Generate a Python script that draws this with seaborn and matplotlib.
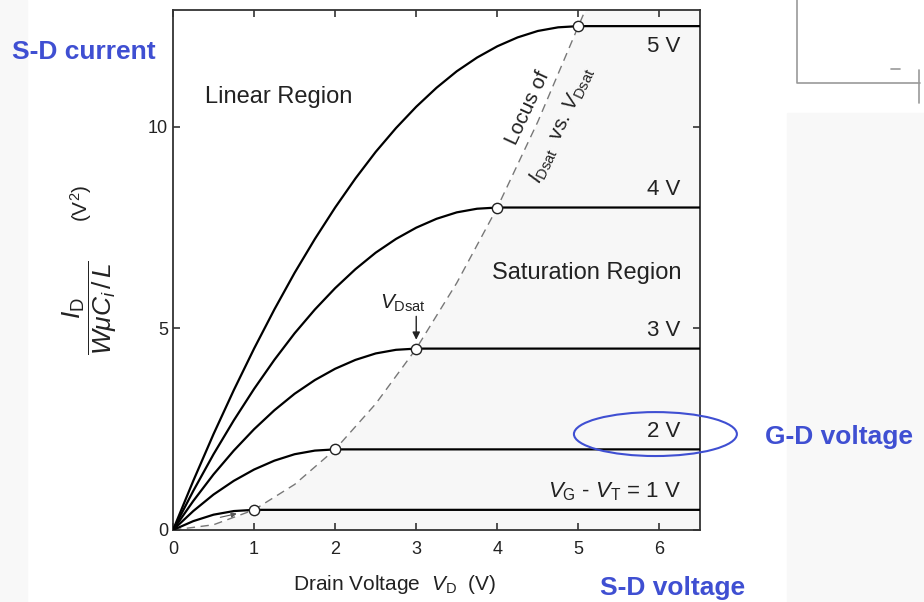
import numpy as np
import pandas as pd
import matplotlib.pyplot as plt
import seaborn as sns
from matplotlib.patches import Ellipse, Rectangle
from matplotlib.lines import Line2D

# curves: drain voltage (V) vs normalised current (V^2)
vd_1v = [0, 0.25, 0.5, 0.75, 1, 6.5]
id_1v = [0, 0.22, 0.38, 0.47, 0.5, 0.5]
vd_2v = [0, 0.25, 0.5, 0.75, 1, 1.25, 1.5, 1.75, 2, 6.5]
id_2v = [0, 0.47, 0.88, 1.22, 1.5, 1.72, 1.88, 1.97, 2, 2]
vd_3v = [0, 0.25, 0.5, 0.75, 1, 1.25, 1.5, 1.75, 2, 2.25, 2.5, 2.75, 3, 6.5]
id_3v = [0, 0.72, 1.38, 1.97, 2.5, 2.97, 3.38, 3.72, 4, 4.22, 4.38, 4.47,
         4.5, 4.5]
vd_4v = [0, 0.25, 0.5, 0.75, 1, 1.25, 1.5, 1.75, 2, 2.25, 2.5, 2.75, 3,
         3.25, 3.5, 3.75, 4, 6.5]
id_4v = [0, 0.97, 1.88, 2.72, 3.5, 4.22, 4.88, 5.47, 6, 6.47, 6.88, 7.22,
         7.5, 7.72, 7.88, 7.97, 8, 8]
vd_5v = [0, 0.25, 0.5, 0.75, 1, 1.25, 1.5, 1.75, 2, 2.25, 2.5, 2.75, 3,
         3.25, 3.5, 3.75, 4, 4.25, 4.5, 4.75, 5, 6.5]
id_5v = [0, 1.22, 2.38, 3.47, 4.5, 5.47, 6.38, 7.22, 8, 8.72, 9.38, 9.97,
         10.5, 10.97, 11.38, 11.72, 12, 12.22, 12.38, 12.47, 12.5, 12.5]

gate_labels = [r"$V_{\rm G}$ - $V_{\rm T}$ = 1 V", "2 V", "3 V", "4 V", "5 V"]

# saturation points and the dashed locus
sat_vd = [1, 2, 3, 4, 5]
sat_id = [0.5, 2, 4.5, 8, 12.5]
locus_vd = [0, 0.5, 1, 1.5, 2, 2.5, 3, 3.5, 4, 4.5, 5, 5.15]
locus_id = [0, 0.13, 0.5, 1.13, 2, 3.13, 4.5, 6.13, 8, 10.13, 12.5, 13.2]

x_ticks = [0, 1, 2, 3, 4, 5, 6]
y_ticks = [0, 5, 10]

BLUE = '#3f4fd2'
INK = '#222222'

sns.set_theme(style="ticks")
plt.rcParams['font.family'] = ['Liberation Sans', 'DejaVu Sans']
plt.rcParams['mathtext.fontset'] = 'custom'
plt.rcParams['mathtext.rm'] = 'Liberation Sans'
plt.rcParams['mathtext.it'] = 'Liberation Sans:italic'
plt.rcParams['mathtext.bf'] = 'Liberation Sans:bold'

fig = plt.figure(figsize=(9.24, 6.02), dpi=100)
# faint scan-like background patches
fig.patches.append(Rectangle((0, 0), 27 / 924, 1, transform=fig.transFigure,
                             color='#f8f8f8', zorder=0))
fig.patches.append(Rectangle((787 / 924, 0), 1, 1 - 113 / 602,
                             transform=fig.transFigure, color='#f8f8f8',
                             zorder=0))
# leftover fragment of a neighbouring drawing (top right)
for xs, ys in [([797, 797, 920], [0, 83, 83]), ([919, 919], [70, 103]),
               ([891, 900], [69, 69])]:
    fig.lines.append(Line2D([x / 924 for x in xs], [1 - y / 602 for y in ys],
                            transform=fig.transFigure, color='#999999',
                            lw=1.2))

ax = fig.add_axes([173 / 924, 1 - 530 / 602, 527 / 924, 520 / 602])

curves = pd.concat([
    pd.DataFrame({'vd': v, 'id': i, 'gate': g})
    for v, i, g in zip([vd_1v, vd_2v, vd_3v, vd_4v, vd_5v],
                       [id_1v, id_2v, id_3v, id_4v, id_5v], gate_labels)
])

# light shading of the saturation region (right of the locus)
ax.fill_between(locus_vd + [6.5], 0, locus_id + [13.2], color='#f7f7f7',
                zorder=0, lw=0)

sns.lineplot(data=curves, x='vd', y='id', units='gate', estimator=None,
             sort=False, color='black', lw=1.6, ax=ax, zorder=3)
sns.lineplot(x=locus_vd, y=locus_id, color='#777777', lw=1.0,
             linestyle=(0, (6, 4)), sort=False, ax=ax, zorder=2)
sns.scatterplot(x=sat_vd, y=sat_id, s=55, facecolor='white',
                edgecolor=INK, linewidth=1.0, ax=ax, zorder=5)

# curve labels
for g, level in zip(gate_labels, sat_id):
    off = -0.5 if level > 12 else 0.45
    ax.text(6.26, level + off, g, ha='right', va='center', fontsize=16,
            color=INK)

ax.text(0.4, 10.74, "Linear Region", ha='left', va='center', fontsize=17,
        color=INK)
ax.text(5.1, 6.38, "Saturation Region", ha='center', va='center',
        fontsize=17, color=INK)
ax.text(4.37, 10.47, "Locus of", rotation=65, rotation_mode='anchor',
        ha='center', va='center', fontsize=15, color=INK)
ax.text(4.80, 10.05, r"$I_{\rm Dsat}$  vs. $V_{\rm Dsat}$", rotation=65,
        rotation_mode='anchor', ha='center', va='center', fontsize=15,
        color=INK)

ax.text(2.84, 5.63, r"$V_{\rm Dsat}$", ha='center', va='center',
        fontsize=15, color=INK)
ax.annotate("", xy=(3.0, 4.72), xytext=(3.0, 5.3),
            arrowprops=dict(arrowstyle='-|>', color=INK, lw=1.0,
                            shrinkA=0, shrinkB=0, mutation_scale=11))
ax.annotate("", xy=(0.82, 0.42), xytext=(0.55, 0.3),
            arrowprops=dict(arrowstyle='-|>', color='#555555', lw=0.8,
                            mutation_scale=8))

ax.add_patch(Ellipse((5.95, 2.38), 2.01, 1.09, fill=False, edgecolor=BLUE,
                     lw=1.5, clip_on=False, zorder=6))

ax.set_xlim(0, 6.5)
ax.set_ylim(0, 12.9)
ax.set_xticks(x_ticks)
ax.set_yticks(y_ticks)
ax.tick_params(direction='in', length=5, width=1.1, labelsize=13,
               colors=INK, top=True, right=True)
ax.tick_params(axis='x', pad=8)
for s in ax.spines.values():
    s.set_visible(True)
    s.set_linewidth(1.3)
    s.set_color('#333333')

ax.set_xlabel(r"Drain Voltage  $V_{\rm D}$  (V)", fontsize=15, color=INK)
ax.xaxis.set_label_coords((395 - 173) / 527, -0.083)
ax.set_ylabel("")
ax.text((90 - 173) / 527, 0.427, r"$\dfrac{I_{\rm D}}{W\mu C_i\,/\,L}$",
        transform=ax.transAxes, rotation=90, ha='center', va='center',
        fontsize=19, color=INK)
ax.text((81 - 173) / 527, 0.629, r"(V$^2$)", transform=ax.transAxes,
        rotation=90, ha='center', va='center', fontsize=15, color=INK)

fig.text(12 / 924, 1 - 52 / 602, "S-D current", color=BLUE, fontsize=19,
         fontweight='bold', ha='left', va='center')
fig.text(765 / 924, 1 - 437 / 602, "G-D voltage", color=BLUE, fontsize=19,
         fontweight='bold', ha='left', va='center')
fig.text(600 / 924, 1 - 588 / 602, "S-D voltage", color=BLUE, fontsize=19,
         fontweight='bold', ha='left', va='center')

fig.savefig('out.png', dpi=100)
